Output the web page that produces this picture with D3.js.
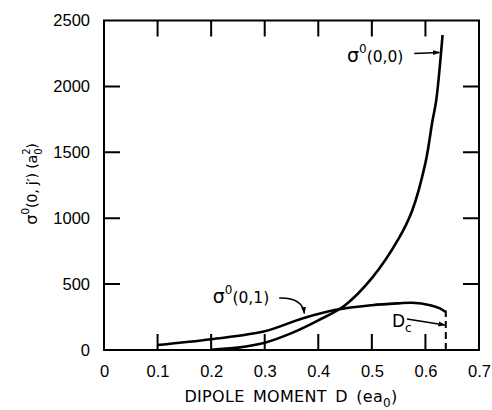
<!DOCTYPE html>
<html>
<head>
<meta charset="utf-8">
<script src="https://cdn.jsdelivr.net/npm/d3@7"></script>
<style>
  body { margin: 0; background: #fff; }
  svg { font-family: "DejaVu Sans", sans-serif; }
  .axis text { font-size: 16.5px; fill: #000; }
  .axis path { display: none; }
</style>
</head>
<body>
<svg id="chart" width="492" height="410"></svg>
<script>
// dipole moment D (ea0) and cross sections (a0^2)
var sigma00D = [0.20, 0.25, 0.30, 0.35, 0.40, 0.45, 0.50, 0.55, 0.575, 0.60, 0.613, 0.62, 0.632];
var sigma00  = [2, 18, 55, 128, 225, 340, 545, 845, 1055, 1420, 1736, 1890, 2390];
var sigma01D = [0.10, 0.20, 0.30, 0.37, 0.433, 0.50, 0.55, 0.575, 0.609, 0.627, 0.637];
var sigma01  = [38, 82, 142, 239, 305, 340, 354, 358, 340, 316, 290];
var criticalD = 0.638;
var xTicks = [0, 0.1, 0.2, 0.3, 0.4, 0.5, 0.6, 0.7];
var yTicks = [0, 500, 1000, 1500, 2000, 2500];

var svg = d3.select("#chart");
var plotLeft = 104, plotRight = 479, plotTop = 20.5, plotBottom = 350;
var tickLen = 16;

var x = d3.scaleLinear().domain([0, 0.7]).range([plotLeft, plotRight]);
var y = d3.scaleLinear().domain([0, 2500]).range([plotBottom, plotTop]);

// arrowhead
svg.append("defs").append("marker")
  .attr("id", "arrow")
  .attr("viewBox", "0 0 10 10")
  .attr("refX", 9).attr("refY", 5)
  .attr("markerWidth", 7).attr("markerHeight", 7)
  .attr("markerUnits", "userSpaceOnUse")
  .attr("orient", "auto")
  .append("path")
  .attr("d", "M0,1.5 L10,5 L0,8.5 Z")
  .attr("fill", "#000");

// tick labels
svg.append("g").attr("class", "axis")
  .attr("transform", "translate(0," + plotBottom + ")")
  .call(d3.axisBottom(x).tickValues(xTicks).tickSize(0).tickPadding(15)
    .tickFormat(function (d) { return d === 0 ? "0" : d3.format(".1f")(d); }));
svg.append("g").attr("class", "axis")
  .attr("transform", "translate(" + plotLeft + ",0)")
  .call(d3.axisLeft(y).tickValues(yTicks).tickSize(0).tickPadding(14).tickFormat(d3.format("d")));

// frame and inward ticks on all four sides, in one path
var fp = d3.path();
fp.rect(plotLeft, plotTop, plotRight - plotLeft, plotBottom - plotTop);
xTicks.slice(1, -1).forEach(function (d) {
  fp.moveTo(x(d), plotBottom); fp.lineTo(x(d), plotBottom - tickLen);
  fp.moveTo(x(d), plotTop); fp.lineTo(x(d), plotTop + tickLen);
});
yTicks.slice(1, -1).forEach(function (d) {
  fp.moveTo(plotLeft, y(d)); fp.lineTo(plotLeft + tickLen, y(d));
  fp.moveTo(plotRight, y(d)); fp.lineTo(plotRight - tickLen, y(d));
});
svg.append("path")
  .attr("d", fp.toString())
  .attr("fill", "none").attr("stroke", "#000").attr("stroke-width", 2);

// curves
var line = d3.line()
  .x(function (d) { return x(d[0]); })
  .y(function (d) { return y(d[1]); })
  .curve(d3.curveCatmullRom.alpha(0.5));

svg.append("path")
  .datum(d3.zip(sigma00D, sigma00))
  .attr("d", line)
  .attr("fill", "none").attr("stroke", "#000").attr("stroke-width", 2.6);

svg.append("path")
  .datum(d3.zip(sigma01D, sigma01))
  .attr("d", line)
  .attr("fill", "none").attr("stroke", "#000").attr("stroke-width", 2.6);

// critical dipole moment
svg.append("line")
  .attr("x1", x(criticalD)).attr("x2", x(criticalD))
  .attr("y1", y(0)).attr("y2", y(300))
  .attr("stroke", "#000").attr("stroke-width", 2)
  .attr("stroke-dasharray", "7,4");

// labels
function sigmaLabel(px, py, args) {
  var t = svg.append("text").attr("x", px).attr("y", py).attr("font-size", 19);
  t.append("tspan").text("σ");
  t.append("tspan").attr("font-size", 12).attr("dy", -9).text("0");
  t.append("tspan").attr("font-size", 15.5).attr("dy", 9).text(args);
  return t;
}

sigmaLabel(x(0.4535), y(2188), "(0,0)");
svg.append("line")
  .attr("x1", x(0.579)).attr("y1", y(2250))
  .attr("x2", x(0.626)).attr("y2", y(2258))
  .attr("stroke", "#000").attr("stroke-width", 1.5)
  .attr("marker-end", "url(#arrow)");

sigmaLabel(x(0.203), y(357), "(0,1)");
svg.append("path")
  .attr("d", "M" + x(0.327) + "," + y(395) +
             " Q" + x(0.37) + "," + y(400) + " " + x(0.374) + "," + y(278))
  .attr("fill", "none").attr("stroke", "#000").attr("stroke-width", 1.5)
  .attr("marker-end", "url(#arrow)");

var dc = svg.append("text").attr("x", x(0.5375)).attr("y", y(175)).attr("font-size", 17);
dc.append("tspan").text("D");
dc.append("tspan").attr("font-size", 12).attr("dy", 5).text("c");
svg.append("line")
  .attr("x1", x(0.5655)).attr("y1", y(235))
  .attr("x2", x(criticalD) - 1).attr("y2", y(190))
  .attr("stroke", "#000").attr("stroke-width", 1.5)
  .attr("marker-end", "url(#arrow)");

// axis titles
var xt = svg.append("text")
  .attr("x", 291).attr("y", 402)
  .attr("text-anchor", "middle").attr("font-size", 16)
  .attr("word-spacing", 3).attr("letter-spacing", 0.3);
xt.append("tspan").text("DIPOLE MOMENT  D (ea");
xt.append("tspan").attr("font-size", 12).attr("dy", 5).text("0");
xt.append("tspan").attr("dy", -5).text(")");

var yt = svg.append("text")
  .attr("transform", "translate(37,184) rotate(-90)")
  .attr("text-anchor", "middle").attr("font-size", 14.5)
  .attr("letter-spacing", -0.3);
yt.append("tspan").attr("font-size", 16).text("σ");
yt.append("tspan").attr("font-size", 11).attr("dy", -8).text("0");
yt.append("tspan").attr("dy", 8).text("(0, j′) (a");
yt.append("tspan").attr("font-size", 10).attr("dy", -7).text("2");
yt.append("tspan").attr("font-size", 10).attr("dx", -6).attr("dy", 12).text("0");
yt.append("tspan").attr("dy", -5).text(")");
</script>
</body>
</html>
